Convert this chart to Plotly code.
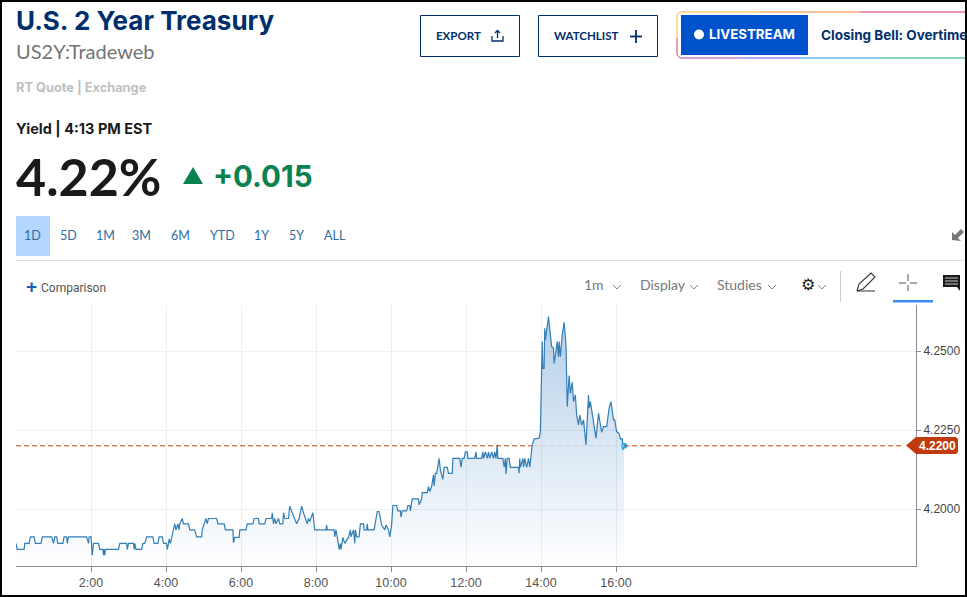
import plotly.graph_objects as go

# minutes after midnight and yield
minutes = [0,2,13,14,21,23,29,31,40,42,57,60,62,65,67,75,77,81,82,84,113,116,117,120,122,124,132,134,139,140,141,142,143,164,166,177,178,180,188,189,190,192,201,203,206,209,219,221,227,229,234,236,241,242,244,245,247,249,252,254,256,259,261,262,266,268,276,278,
           286,289,297,298,301,304,306,308,321,323,333,335,347,348,350,357,358,368,370,379,381,388,389,398,400,409,410,412,414,416,420,422,427,428,430,436,438,442,449,453,457,460,466,468,470,475,478,496,497,498,509,510,512,514,517,519,520,523,526,532,535,536,540,542,543,545,549,551,556,557,561,562,563,
           573,576,578,581,585,590,592,596,598,601,603,609,611,615,616,618,625,627,630,631,634,644,645,649,650,658,660,662,665,668,669,671,673,677,679,683,685,690,692,698,699,710,712,714,717,719,722,723,734,736,737,745,747,748,751,754,756,758,761,764,766,768,770,771,779,781,783,784,786,789,791,804,805,806,807,811,812,814,817,820,822,
           826,829,837,839,842,843,845,846,847,849,852,855,857,860,861,863,866,868,869,871,874,877,880,882,884,885,887,890,892,895,897,900,902,905,908,909,912,916,917,919,923,926,928,932,934,937,940,945,949,952,956,958,961,965,967,970,971,973]
yields = [4.1891,4.1872,4.1872,4.1891,4.1891,4.1912,4.1912,4.1891,4.1891,4.1912,4.1912,4.1891,4.1912,4.1912,4.1891,4.1891,4.1912,4.1912,4.1891,4.1912,4.1912,4.1891,4.1912,4.1912,4.1854,4.1891,4.1891,4.1872,4.1872,4.1854,4.1872,4.1854,4.1872,4.1872,4.1891,4.1891,4.1872,4.1891,4.1891,4.1872,4.1891,4.1872,4.1872,4.1891,4.1891,4.1912,4.1912,4.1891,4.1891,4.1912,4.1912,4.1891,4.1891,4.1872,4.1891,4.1905,4.1891,4.1912,4.1934,4.1953,4.1934,4.1953,4.1934,4.1953,4.1970,4.1953,4.1953,4.1934,
          4.1934,4.1912,4.1912,4.1934,4.1953,4.1970,4.1953,4.1970,4.1970,4.1953,4.1953,4.1934,4.1934,4.1893,4.1910,4.1910,4.1934,4.1934,4.1953,4.1953,4.1970,4.1970,4.1953,4.1953,4.1970,4.1970,4.1988,4.1953,4.1970,4.1953,4.1970,4.1953,4.1953,4.1988,4.1970,4.1970,4.2009,4.1988,4.1953,4.1970,4.2009,4.1988,4.1953,4.1970,4.1960,4.1988,4.1934,4.1934,4.1949,4.1934,4.1934,4.1912,4.1934,4.1912,4.1872,4.1891,4.1872,4.1910,4.1891,4.1910,4.1934,4.1912,4.1934,4.1891,4.1934,4.1912,4.1912,4.1953,4.1953,4.1934,4.1934,4.1953,4.1934,
          4.1934,4.1974,4.1992,4.1992,4.1949,4.1934,4.1949,4.1934,4.1912,4.1949,4.2011,4.2011,4.1994,4.1994,4.1974,4.1994,4.1994,4.2011,4.2011,4.1994,4.2032,4.2032,4.2013,4.2032,4.2052,4.2052,4.2071,4.2055,4.2071,4.2108,4.2073,4.2113,4.2113,4.2160,4.2123,4.2094,4.2132,4.2132,4.2113,4.2113,4.2160,4.2160,4.2132,4.2160,4.2160,4.2181,4.2181,4.2160,4.2160,4.2181,4.2160,4.2160,4.2181,4.2160,4.2181,4.2160,4.2181,4.2160,4.2181,4.2160,4.2181,4.2160,4.2203,4.2160,4.2160,4.2132,4.2160,4.2111,4.2160,4.2160,4.2132,4.2132,4.2113,4.2160,4.2132,4.2160,4.2132,4.2160,4.2132,4.2160,4.2132,
          4.2203,4.2222,4.2224,4.2245,4.2530,4.2445,4.2445,4.2572,4.2535,4.2572,4.2609,4.2551,4.2514,4.2509,4.2461,4.2488,4.2530,4.2482,4.2530,4.2482,4.2551,4.2591,4.2519,4.2324,4.2422,4.2422,4.2366,4.2401,4.2340,4.2361,4.2297,4.2266,4.2297,4.2266,4.2282,4.2266,4.2203,4.2361,4.2319,4.2340,4.2282,4.2245,4.2224,4.2303,4.2282,4.2243,4.2261,4.2261,4.2319,4.2340,4.2282,4.2282,4.2245,4.2239,4.2222,4.2222,4.2187,4.2200]
tick_minutes = [120,240,360,480,600,720,840,960]
tick_labels = ["2:00","4:00","6:00","8:00","10:00","12:00","14:00","16:00"]
yield_ticks = [4.2,4.225,4.25]
tabs = ["1D","5D","1M","3M","6M","YTD","1Y","5Y","ALL"]
tab_x = [32,68,105,141,180,222,261,296,335]

NAVY = "#002f6c"
BODY = "Lato"
HEAVY = "Inter"

def px(x):
    return (x-16)/900
def py(y):
    return (566-y)/261

shapes = []
annots = []

def text(x,y,s,size,color,font=BODY,bold=False,anchor="left"):
    if bold:
        s = "<b>"+s+"</b>"
    annots.append(dict(xref="paper",yref="paper",x=px(x),y=py(y),text=s,showarrow=False,xanchor=anchor,yanchor="middle",
                       font=dict(size=size,color=color,family=font),borderpad=0,borderwidth=0))

def rect(x0,y0,x1,y1,line=None,fill=None,w=1):
    shapes.append(dict(type="rect",xref="paper",yref="paper",x0=px(x0),y0=py(y0),x1=px(x1),y1=py(y1),
                       line=dict(color=line or "rgba(0,0,0,0)",width=w if line else 0),fillcolor=fill or "rgba(0,0,0,0)"))

def seg(x0,y0,x1,y1,color,w=1):
    shapes.append(dict(type="line",xref="paper",yref="paper",x0=px(x0),y0=py(y0),x1=px(x1),y1=py(y1),line=dict(color=color,width=w)))

def poly(points,fill=None,line=None,w=1,close=True):
    d = "M"+" L".join(f"{px(a):.5f},{py(b):.5f}" for a,b in points)+(" Z" if close else "")
    shapes.append(dict(type="path",xref="paper",yref="paper",path=d,fillcolor=fill or "rgba(0,0,0,0)",
                       line=dict(color=line or "rgba(0,0,0,0)",width=w if line else 0)))

def chevron(x,y,color="#8a8a8a"):
    poly([(x-4,y-2),(x,y+2),(x+4,y-2)],line=color,w=1,close=False)

# header
text(16,20,"U.S. 2 Year Treasury",26,NAVY,font=HEAVY,bold=True)
text(16,50.5,"US2Y:Tradeweb",20,"#747474")
text(16,87,"RT Quote | Exchange",12.8,"#c0c0c0",font=HEAVY,bold=True)
text(16,129,"Yield | 4:13 PM EST",14.5,"#1a1a1a",font=HEAVY,bold=True)
text(16,176,"4.22%",52,"#1a1a1a",bold=True)
poly([(183,184),(203,184),(193,167)],fill="#0a8150")
text(213,176,"+0.015",29.5,"#0a8150",font=HEAVY,bold=True)

# buttons
rect(420.5,15.5,519.5,56.5,line=NAVY)
text(436,35.5,"EXPORT",11.5,NAVY,bold=True)
poly([(492,36),(492,41),(503,41),(503,36)],line=NAVY,w=1.3,close=False)
seg(497.5,31,497.5,38,NAVY,1.3)
poly([(495,33),(497.5,30.5),(500,33)],line=NAVY,w=1.3,close=False)
rect(538.5,15.5,657.5,56.5,line=NAVY)
text(554,35.5,"WATCHLIST",11.5,NAVY,bold=True)
seg(636,30,636,43,NAVY,1.8)
seg(630,36.5,642,36.5,NAVY,1.8)

# livestream box, border changes colour along its length
seg(680,12,760,12,"#f5b82e",1)
seg(760,12,860,12,"#f08030",1)
seg(860,12,967,12,"#e0305a",1)
seg(677,15,680,12,"#f5b82e",1)
seg(677,15,677,38,"#f0c040",1)
seg(677,38,677,55,"#d04080",1)
seg(677,55,680,58,"#c040a0",1)
seg(680,58,740,58,"#b040a8",1)
seg(740,58,800,58,"#6050e0",1)
seg(800,58,880,58,"#2090e8",1)
seg(880,58,967,58,"#10b070",1)
rect(681,15,808,55,fill="#0052cc")
shapes.append(dict(type="circle",xref="paper",yref="paper",x0=px(694),y0=py(29.5),x1=px(704),y1=py(39.5),fillcolor="#ffffff",line=dict(width=0)))
text(709,34,"LIVESTREAM",13.3,"#ffffff",font=HEAVY,bold=True)
text(821,35,"Closing Bell: Overtime",13.5,NAVY,font=HEAVY,bold=True)

# range tabs
rect(16,216,50,256,fill="#b3d7ff")
for lab,xx in zip(tabs,tab_x):
    text(xx,235.5,lab,12.5,"#2d6d9f",anchor="center")
seg(16,260.5,967,260.5,"#e0e0e0")
poly([(952,240),(952,232),(955,235),(961,229),(964,232),(958,238),(961,241)],fill="#777777")

# chart toolbar
text(31,286.5,"+",19,"#1b5fae",font="Liberation Sans",bold=True,anchor="center")
text(41,288,"Comparison",12,"#555555",font="Roboto")
text(584,284.5,"1m",14,"#777777")
chevron(617,287)
text(640,284.5,"Display",14,"#777777")
chevron(694,287)
text(717,284.5,"Studies",14,"#777777")
chevron(772,287)
text(808,284,"⚙",16,"#1a1a1a",font="DejaVu Sans",anchor="center")
chevron(822,287)
seg(840.5,271,840.5,302,"#cccccc")
poly([(857,291),(859,284),(871,273),(875,277),(863,289),(857,291)],line="#333333",w=1.1,close=False)
seg(857,291,875,291,"#333333",1)
seg(908,274,908,281,"#555555",1)
seg(908,285,908,291,"#555555",1)
seg(899,283,906,283,"#555555",1)
seg(910,283,917,283,"#555555",1)
rect(893,300,933,302.5,fill="#3b8cf0")
poly([(943,275),(960,275),(960,291),(957,287),(943,287)],fill="#1a1a1a")
for yy in (278,281,284):
    seg(945,yy,958,yy,"#ffffff",0.8)

# last price line and tag, it fades where it runs through the fill
for x0,x1,col in ((0,826,"#c1440e"),(826,minutes[-1],"#c9ccd2"),(minutes[-1],1420,"#c1440e")):
    shapes.append(dict(type="line",xref="x",yref="y",x0=x0,x1=x1,y0=yields[-1],y1=yields[-1],layer="above",
                       line=dict(color=col,width=1,dash="5px,3px")))
poly([(906,445.5),(916,437),(956,437),(958,439),(958,452),(956,454),(916,454)],fill="#bf3a0c")
text(937,445.5,"4.2200",12,"#ffffff",font="Liberation Sans",bold=True,anchor="center")

# black frame round the screenshot
rect(0,0,967,2,fill="#000000")
rect(0,0,2,597,fill="#000000")
rect(965,0,967,597,fill="#000000")
rect(0,595,967,597,fill="#000000")

fig = go.Figure()
fig.add_trace(go.Scatter(
    x=minutes,y=yields,mode="lines",
    line=dict(color="#327fb6",width=1.2),
    fill="tozeroy",
    fillgradient=dict(type="vertical",start=4.262,stop=4.182,
                      colorscale=[[0,"rgba(30,110,190,0.34)"],[1,"rgba(30,110,190,0.0)"]]),
    hoverinfo="skip"))
fig.add_trace(go.Scatter(x=minutes[-1:],y=yields[-1:],mode="markers",marker=dict(color="#1ab0f5",size=6),hoverinfo="skip"))

fig.update_layout(
    width=967,height=597,autosize=False,
    margin=dict(l=16,r=51,t=305,b=31,autoexpand=False),
    paper_bgcolor="#ffffff",plot_bgcolor="#ffffff",
    showlegend=False,shapes=shapes,annotations=annots,
    font=dict(family="Liberation Sans",size=12,color="#444444"))
fig.update_xaxes(range=[0,1440],tickvals=tick_minutes,ticktext=tick_labels,showgrid=True,gridcolor="#efefef",automargin=False,
                 showline=True,linecolor="#8c8c8c",ticks="outside",ticklen=5,tickcolor="#8c8c8c",zeroline=False,
                 tickfont=dict(size=12.5,color="#555555"))
fig.update_yaxes(range=[4.18196,4.26456],side="right",tickvals=yield_ticks,tickformat=".4f",showgrid=True,gridcolor="#efefef",automargin=False,
                 showline=True,linecolor="#8c8c8c",ticks="outside",ticklen=4,tickcolor="#8c8c8c",zeroline=False,
                 tickfont=dict(size=12,color="#444444"))

fig.write_html("out.html",config={"displayModeBar":False,"responsive":False},
               post_script="document.documentElement.style.overflow='hidden';document.body.style.margin='0';document.body.style.padding='0';")
